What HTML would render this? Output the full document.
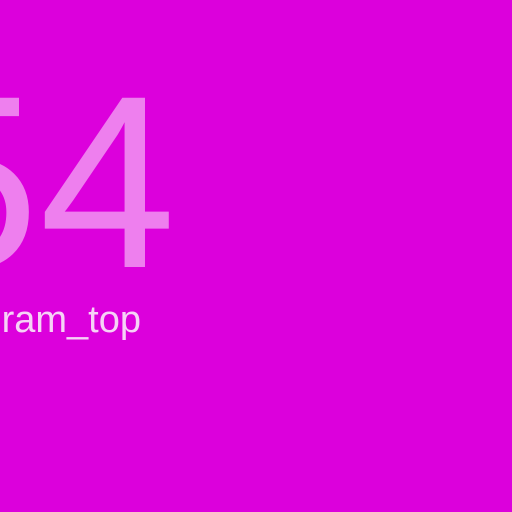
<!DOCTYPE html>
<html><head><meta charset="utf-8"><style>
html,body{margin:0;padding:0;}
body{width:512px;height:512px;background:#DC00DC;position:relative;overflow:hidden;font-family:"Liberation Sans",sans-serif;}
#clip{position:absolute;left:0;top:0;width:512px;height:512px;overflow:hidden;}
#num{position:absolute;right:336px;top:58px;font-size:246px;line-height:250px;color:#EE7FEE;white-space:nowrap;}
#lbl{position:absolute;right:371px;top:300px;font-size:38px;line-height:40px;color:#F6D2F6;white-space:nowrap;}
</style></head><body>
<div id="clip">
<div id="num">54</div>
<div id="lbl">instagram_top</div>
</div>
</body></html>
